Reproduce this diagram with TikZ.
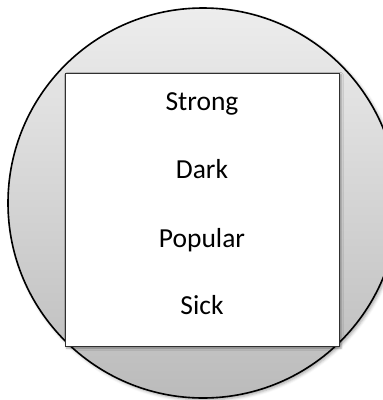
\documentclass[tikz,border=0pt]{standalone}
\usepackage{fontspec}
\setmainfont{Carlito}
\usetikzlibrary{shadows.blur}
\definecolor{topgray}{HTML}{EDEDED}
\definecolor{botgray}{HTML}{BBBBBB}
\definecolor{rectedge}{HTML}{303030}
\begin{document}
\begin{tikzpicture}[x=1pt,y=-1pt,
  ring/.style={circle, draw=black, line width=1.6pt, minimum size=390pt, inner sep=0pt,
    top color=topgray, bottom color=botgray,
    blur shadow={shadow xshift=2pt, shadow yshift=-2pt, shadow blur radius=3pt, shadow opacity=35}},
  panel/.style={draw=rectedge, line width=1.4pt, fill=white,
    blur shadow={shadow xshift=1.5pt, shadow yshift=-1.5pt, shadow blur radius=2pt, shadow opacity=35}},
  word/.style={anchor=base, font=\fontsize{27.5}{30}\selectfont, text=black}]
\useasboundingbox (0,0) rectangle (383,400);
\node[ring] (c) at (203,203) {};
\node[panel, minimum width=274.5pt, minimum height=273.5pt, inner sep=0pt, anchor=north west] (r) at (64.5,72.5) {};
\node[word] (w1) at (202,110) {Strong};
\node[word] (w2) at (202,178) {Dark};
\node[word] (w3) at (202,247) {Popular};
\node[word] (w4) at (202,314) {Sick};
\end{tikzpicture}
\end{document}
